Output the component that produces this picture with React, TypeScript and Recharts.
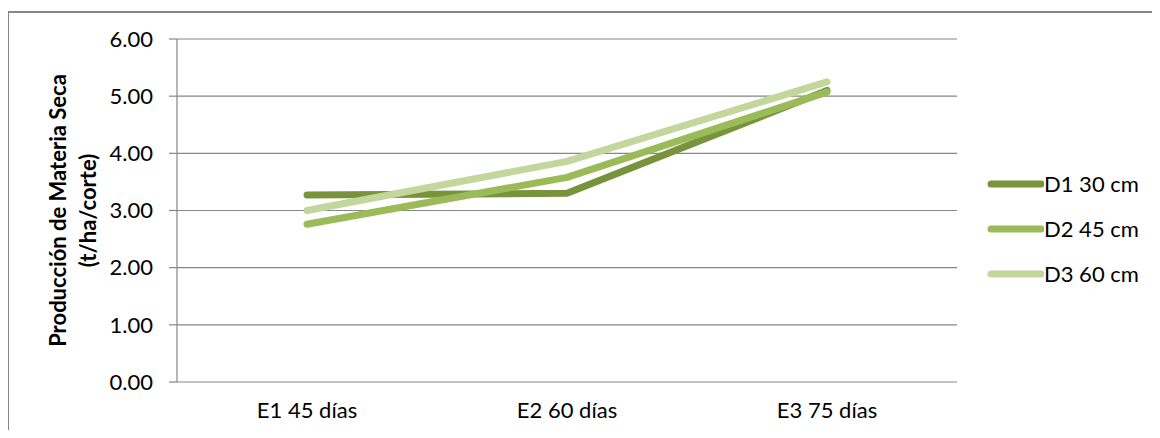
import { LineChart, Line, XAxis, YAxis, CartesianGrid } from "recharts";

// ── Data ─────────────────────────────────────────────────────────────

const CATEGORIES = ["E1 45 días", "E2 60 días", "E3 75 días"];
const D1 = [3.27, 3.30, 5.10];
const D2 = [2.76, 3.58, 5.07];
const D3 = [3.00, 3.86, 5.25];
const Y_TICKS = [0, 1, 2, 3, 4, 5, 6];
const BOUNDARY_TICKS = [0, 1, 2, 3];

const SERIES = [
  { key: "d1", name: "D1 30 cm", color: "#77933C" },
  { key: "d2", name: "D2 45 cm", color: "#9BBB59" },
  { key: "d3", name: "D3 60 cm", color: "#C3D69B" },
];

const data = CATEGORIES.map((cat, i) => ({ cat, d1: D1[i], d2: D2[i], d3: D3[i] }));

const FONT = "Lato, 'Open Sans', sans-serif";
const AXIS_GRAY = "#868686";

// ── Pieces ───────────────────────────────────────────────────────────

function YTitle(props: any) {
  const { viewBox } = props;
  const cy = viewBox.y + viewBox.height / 2;
  return (
    <g fontFamily={FONT} fontWeight={700} fontSize={22} fill="#000">
      <text x={57} y={cy} textAnchor="middle" dominantBaseline="central" transform={`rotate(-90, 57, ${cy})`}>
        Producción de Materia Seca
      </text>
      <text x={87} y={cy} textAnchor="middle" dominantBaseline="central" transform={`rotate(-90, 87, ${cy})`}>
        (t/ha/corte)
      </text>
    </g>
  );
}

function LegendBox() {
  return (
    <div style={{ position: "absolute", left: 986, top: 161, fontFamily: FONT, fontSize: 22 }}>
      {SERIES.map((s) => (
        <div key={s.key} style={{ display: "flex", alignItems: "center", height: 45 }}>
          <svg width={58} height={10}>
            <line x1={5} y1={5} x2={55} y2={5} stroke={s.color} strokeWidth={7} strokeLinecap="round" />
          </svg>
          <span>{s.name}</span>
        </div>
      ))}
    </div>
  );
}

// ── Main ─────────────────────────────────────────────────────────────

export default function App() {
  return (
    <div style={{ position: "relative", width: 1160, height: 438, margin: -8, background: "#fff", overflow: "hidden" }}>
      <div style={{
        position: "absolute", left: 7, top: 11, width: 1200, height: 500,
        borderTop: `2px solid ${AXIS_GRAY}`, borderLeft: `2px solid ${AXIS_GRAY}`,
        boxSizing: "border-box",
      }} />
      <div style={{ position: "absolute", left: 0, top: 0 }}>
        <LineChart width={1160} height={438} data={data}
          margin={{ top: 39, right: 203, bottom: 26, left: 0 }}>
          <CartesianGrid vertical={false} stroke={AXIS_GRAY} strokeWidth={1.2} />
          <XAxis xAxisId="bounds" type="number" domain={[0, 3]} ticks={BOUNDARY_TICKS}
            height={0} tickSize={8} stroke={AXIS_GRAY} strokeWidth={1.2}
            tickFormatter={() => ""} />
          <XAxis xAxisId="cat" dataKey="cat" scale="band" height={30} axisLine={false} tickLine={false}
            tickMargin={14} tick={{ fill: "#000", fontSize: 22, fontFamily: FONT }} />
          <YAxis domain={[0, 6]} ticks={Y_TICKS} width={177} tickSize={8} tickMargin={16}
            stroke={AXIS_GRAY} strokeWidth={1.2}
            tick={{ fill: "#000", fontSize: 22, fontFamily: FONT }}
            tickFormatter={(v: number) => v.toFixed(2)}
            label={{ content: YTitle }} />
          {SERIES.map((s) => (
            <Line key={s.key} xAxisId="cat" dataKey={s.key} name={s.name} stroke={s.color}
              strokeWidth={7} strokeLinecap="round" strokeLinejoin="round" dot={false}
              isAnimationActive={false} />
          ))}
        </LineChart>
      </div>
      <LegendBox />
    </div>
  );
}
